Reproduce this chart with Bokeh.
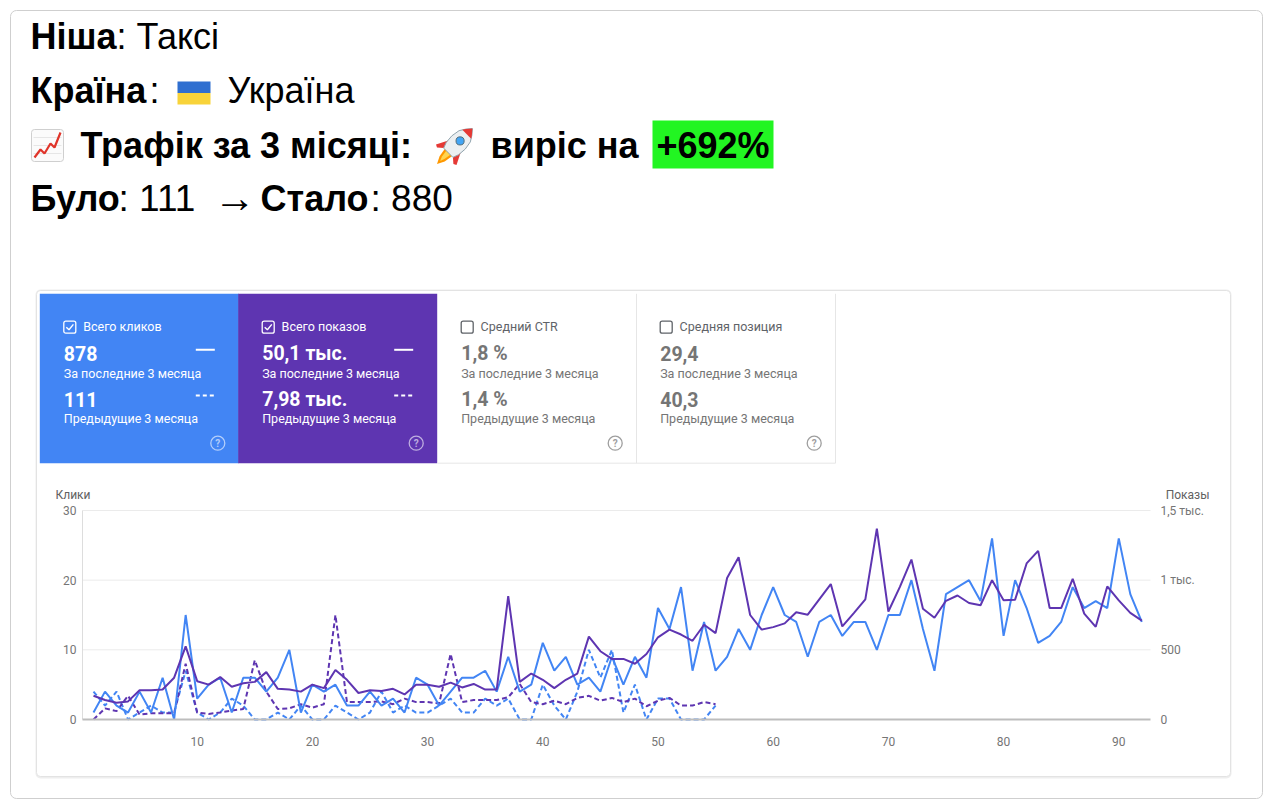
import numpy as np
from bokeh.plotting import figure
from bokeh.models import Range1d
from bokeh.core.properties import value
from bokeh.embed import file_html
from bokeh.resources import INLINE

# ---------------- data ----------------
days_current = list(range(1, 93))
clicks_current = [1, 4, 2, 1, 4, 1, 6, 0, 15, 3, 5, 6, 1, 6, 6, 4, 6, 10, 1, 5, 4, 5, 2, 2, 4, 2, 3, 1, 6,
                  5, 2, 4, 6, 6, 7, 4, 9, 4, 5, 11, 7, 9, 5, 6, 4, 9, 5, 9, 6, 16, 13, 19, 7, 14, 7, 9, 13, 10, 15, 19,
                  15, 14, 9, 14, 15, 12, 14, 14, 10, 15, 15, 20, 13, 7, 18, 19, 20, 17, 26, 12, 20, 16, 11, 12, 14, 19,
                  16, 17, 16, 26, 18, 14]
impressions_current = [170, 140, 120, 130, 210, 210, 215, 300, 525, 275, 250, 305, 235, 260, 270, 340, 220, 215, 200,
                       250, 225, 355, 285, 190, 210, 205, 220, 180, 250,
                       250, 235, 265, 230, 255, 215, 215, 885, 270, 330, 285, 225, 285, 330, 595, 490, 435, 435, 400,
                       470, 590, 645, 610, 565, 680, 620, 1015, 1165, 750, 645, 663,
                       690, 770, 752, 862, 972, 668, 764, 862, 1370, 775, 952, 1148, 795, 730, 852, 890, 836, 820, 1000,
                       855, 860, 1120, 1210, 800, 800, 1010, 760, 665, 955, 855, 765, 710]
days_previous = list(range(1, 56))
clicks_previous = [4, 2, 4, 0, 1, 2, 1, 1, 7, 1, 0, 1, 3, 2, 0, 0, 1, 0, 2, 0, 0, 2, 1, 0, 1, 4, 1, 2, 1,
                   1, 2, 3, 1, 1, 3, 2, 3, 0, 0, 5, 2, 0, 4, 10, 6, 10, 1, 5, 0, 3, 3, 0, 0, 0, 2]
impressions_previous = [0, 80, 60, 170, 35, 45, 45, 45, 400, 50, 40, 50, 65, 75, 425, 200, 75, 80, 110, 85, 110, 750,
                        125, 125, 125, 130, 110, 150, 125,
                        125, 115, 470, 125, 140, 140, 140, 160, 255, 125, 110, 135, 110, 155, 170, 135, 155, 125, 150,
                        95, 135, 155, 100, 100, 125, 110]

click_ticks = [0, 10, 20, 30]
click_tick_labels = ["0", "10", "20", "30"]
impr_ticks = [0, 500, 1000, 1500]
impr_tick_labels = ["0", "500", "1 тыс.", "1,5 тыс."]
day_ticks = [10, 20, 30, 40, 50, 60, 70, 80, 90]
day_tick_labels = [str(d) for d in day_ticks]

card_titles = ["Всего кликов", "Всего показов", "Средний CTR", "Средняя позиция"]
card_current = ["878", "50,1 тыс.", "1,8 %", "29,4"]
card_previous = ["111", "7,98 тыс.", "1,4 %", "40,3"]
card_sub_current = "За последние 3 месяца"
card_sub_previous = "Предыдущие 3 месяца"
card_fill = ["#4285f4", "#5e35b1", "#ffffff", "#ffffff"]
card_active = [True, True, False, False]

header_segments = [
    (30, 35.5, "Ніша", True, "36px"), (116, 35.5, ": Таксі", False, "36px"),
    (30, 90, "Країна", True, "36px"), (149, 90, ":", False, "36px"), (227, 90, "Україна", False, "36px"),
    (80, 145, "Трафік за 3 місяці:", True, "36px"), (490, 145, "виріс на", True, "36px"),
    (656, 145, "+692%", True, "36px"),
    (30, 198, "Було", True, "36px"), (118, 198, ": 111", False, "37px"), (213, 197, "→", True, "42px"),
    (260, 198, "Стало", True, "36px"), (370, 198, ": 880", False, "37px"),
]

assert len(clicks_current) == 92 and len(impressions_current) == 92
assert len(clicks_previous) == 55 and len(impressions_previous) == 55

# ---------------- layout ----------------
W, H = 1264, 800
X_DAY1, DAY_W = 93.0, 11.52          # page x of day 1, px per day
Y_ZERO, Y_PER_CLICK = 719.0, 209.0 / 30.0
IMPR_PER_CLICK = 50.0

p = figure(width=W, height=H, x_range=Range1d(0, W), y_range=Range1d(H, 0),
           output_backend="svg", toolbar_location=None, x_axis_type=None, y_axis_type=None,
           min_border=0, background_fill_color="white", border_fill_color="white")
p.outline_line_color = None

d0 = (0 - X_DAY1) / DAY_W + 1
d1 = (W - X_DAY1) / DAY_W + 1
c0 = (Y_ZERO - H) / Y_PER_CLICK
c1 = (Y_ZERO - 0) / Y_PER_CLICK
p.extra_x_ranges = {"day": Range1d(d0, d1)}
p.extra_y_ranges = {"clicks": Range1d(c0, c1), "impr": Range1d(c0 * IMPR_PER_CLICK, c1 * IMPR_PER_CLICK)}


def txt(xs, ys, texts, size, color="#000000", font="Roboto", style="normal", align="left",
        baseline="middle", xr=None, yr=None, alpha=1.0):
    kw = {}
    if xr:
        kw["x_range_name"] = xr
    if yr:
        kw["y_range_name"] = yr
    p.text(x=xs, y=ys, text=texts, text_font=value(font), text_font_size=size, text_font_style=style,
           text_color=color, text_align=align, text_baseline=baseline, text_alpha=alpha, **kw)


# outer frame
p.quad(left=[10], right=[1262], top=[10], bottom=[798], fill_color="white", line_color="#cfcfcf",
       line_width=1, border_radius=6)

# ---------------- header ----------------
p.quad(left=[652], right=[773], top=[120], bottom=[168], fill_color="#22f522", line_color=None)
for (x, y, t, b, fs) in header_segments:
    txt([x], [y], [t], fs, color="#000000", font="Liberation Sans",
        style="bold" if b else "normal", baseline="middle")

# flag
p.quad(left=[177], right=[210], top=[81], bottom=[92.5], fill_color="#2f6fd0", line_color=None)
p.quad(left=[177], right=[210], top=[92.5], bottom=[104], fill_color="#f8d33a", line_color=None)

# chart-increasing icon
p.quad(left=[31], right=[63], top=[129], bottom=[161], fill_color="#fbfbfb", line_color="#cfcfcf",
       border_radius=3)
for gy in [137, 145, 153]:
    p.line(x=[33, 61], y=[gy, gy], line_color="#e6e6e6", line_width=1)
p.line(x=[34, 40, 44, 50, 54, 60], y=[157, 149, 153, 143, 147, 132], line_color="#e0352b", line_width=2.2)

# rocket icon
C = np.array([456.0, 144.0])
S = 1.45
u = np.array([1.0, -1.0]) / np.sqrt(2)
v = np.array([1.0, 1.0]) / np.sqrt(2)


def pts(lst):
    arr = np.array([C + S * (t * u + w * v) for (t, w) in lst])
    return list(arr[:, 0]), list(arr[:, 1])


fx, fy = pts([(-8, 3.5), (-14, 2.5), (-19, 0), (-14, -2.5), (-8, -3.5)])
p.patch(fx, fy, fill_color="#ff9800", line_color=None)
fx, fy = pts([(-8, 2), (-13, 1.2), (-16, 0), (-13, -1.2), (-8, -2)])
p.patch(fx, fy, fill_color="#ffd54f", line_color=None)
for s in (1, -1):
    fx, fy = pts([(-8, 4.5 * s), (-2, 6 * s), (-10, 10 * s), (-11, 8 * s)])
    p.patch(fx, fy, fill_color="#e53935", line_color=None)
prof = [(-8, 4.5), (-4, 6), (2, 6.5), (8, 5.5), (12, 3), (15.5, 0)]
body = prof + [(t, -w) for (t, w) in reversed(prof)]
bx, by = pts(body)
p.patch(bx, by, fill_color="#eceff1", line_color="#90a4ae", line_width=1)
nose = [(10, 4.3), (12, 3), (15.5, 0), (12, -3), (10, -4.3)]
nx, ny = pts(nose)
p.patch(nx, ny, fill_color="#e53935", line_color=None)
wc = C + S * 3.5 * u
p.circle(x=[wc[0]], y=[wc[1]], radius=2.8 * S, fill_color="#42a5f5", line_color="#546e7a", line_width=1)

# ---------------- container ----------------
p.quad(left=[35], right=[1231], top=[289], bottom=[778], fill_color="#eeeeee", line_color=None,
       border_radius=5)
p.quad(left=[36], right=[1230], top=[290], bottom=[776], fill_color="white", line_color="#e3e3e3",
       border_radius=4)

card_left = [39.3, 237.7, 436.7, 635.7]
CARD_W = 199.0
CARD_TOP, CARD_BOT = 293.3, 462.7
for i in range(4):
    L = card_left[i]
    if card_active[i]:
        p.quad(left=[L], right=[L + CARD_W], top=[CARD_TOP], bottom=[CARD_BOT], fill_color=card_fill[i],
               line_color=None)
        fg, sub, val, ico, ialpha = "#ffffff", "#ffffff", "#ffffff", "#ffffff", 0.6
    else:
        fg, sub, val, ico, ialpha = "#5f6368", "#757575", "#757575", "#9e9e9e", 1.0
    # checkbox
    p.quad(left=[L + 24], right=[L + 36], top=[CARD_TOP + 27.4], bottom=[CARD_TOP + 39.4],
           fill_color=None, line_color=fg, line_width=1.3, border_radius=2)
    if card_active[i]:
        p.line(x=[L + 26.5, L + 29.2, L + 33.6], y=[CARD_TOP + 33.4, CARD_TOP + 36.0, CARD_TOP + 30.6],
               line_color=fg, line_width=1.4)
    txt([L + 43.4], [CARD_TOP + 32.4], [card_titles[i]], "12.5px", color=fg)
    txt([L + 24], [CARD_TOP + 60.0], [card_current[i]], "19.5px", color=val, style="bold")
    txt([L + 24], [CARD_TOP + 80.0], [card_sub_current], "12.5px", color=sub)
    txt([L + 24], [CARD_TOP + 105.7], [card_previous[i]], "19.5px", color=val, style="bold")
    txt([L + 24], [CARD_TOP + 125.0], [card_sub_previous], "12.5px", color=sub)
    if card_active[i]:
        p.line(x=[L + 156, L + 175], y=[CARD_TOP + 56, CARD_TOP + 56], line_color="#ffffff", line_width=2)
        p.line(x=[L + 156, L + 175], y=[CARD_TOP + 101.7, CARD_TOP + 101.7], line_color="#ffffff",
               line_width=2, line_dash="4 3")
    p.circle(x=[L + 178], y=[CARD_TOP + 149.4], radius=7, fill_color=None, line_color=ico,
             line_alpha=ialpha, line_width=1.3)
    txt([L + 178], [CARD_TOP + 149.9], ["?"], "10px", color=ico, align="center", alpha=ialpha, style="bold")
# light borders around inactive cards
p.line(x=[636, 636], y=[CARD_TOP, CARD_BOT], line_color="#e6e6e6", line_width=1)
p.line(x=[835, 835], y=[CARD_TOP, CARD_BOT], line_color="#e6e6e6", line_width=1)
p.line(x=[437, 835], y=[CARD_BOT, CARD_BOT], line_color="#e6e6e6", line_width=1)

# ---------------- chart ----------------
X_LEFT_DAY, X_RIGHT_DAY = (82 - X_DAY1) / DAY_W + 1, (1150 - X_DAY1) / DAY_W + 1
grid_vals = click_ticks[1:]
p.segment(x0=[X_LEFT_DAY] * len(grid_vals), x1=[X_RIGHT_DAY] * len(grid_vals), y0=grid_vals, y1=grid_vals,
          x_range_name="day", y_range_name="clicks", line_color="#ebebeb", line_width=1)
p.segment(x0=[X_LEFT_DAY], x1=[X_LEFT_DAY], y0=[0], y1=[click_ticks[-1]], x_range_name="day",
          y_range_name="clicks", line_color="#dddddd", line_width=1)

txt([55], [494], ["Клики"], "12px", color="#616161")
txt([1209], [494], ["Показы"], "12px", color="#616161", align="right")
txt([76] * len(click_ticks), click_ticks, click_tick_labels, "12px", color="#757575", align="right",
    yr="clicks")
txt([1160] * len(impr_ticks), impr_ticks, impr_tick_labels, "12px", color="#757575", yr="impr")
txt(day_ticks, [741] * len(day_ticks), day_tick_labels, "12px", color="#757575", align="center", xr="day")

p.line(x=days_previous, y=clicks_previous, x_range_name="day", y_range_name="clicks",
       line_color="#4285f4", line_width=2, line_dash="5 3")
p.line(x=days_previous, y=impressions_previous, x_range_name="day", y_range_name="impr",
       line_color="#5e35b1", line_width=2, line_dash="5 3")
p.line(x=days_current, y=clicks_current, x_range_name="day", y_range_name="clicks",
       line_color="#4285f4", line_width=2)
p.line(x=days_current, y=impressions_current, x_range_name="day", y_range_name="impr",
       line_color="#5e35b1", line_width=2)

# x axis baseline
p.segment(x0=[X_LEFT_DAY], x1=[X_RIGHT_DAY], y0=[0], y1=[0], x_range_name="day", y_range_name="clicks",
          line_color="#bdbdbd", line_width=2)

open("out.html", "w").write(file_html(p, INLINE))
